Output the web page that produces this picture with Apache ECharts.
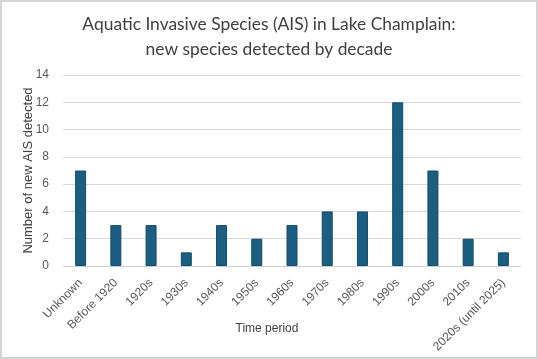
<!DOCTYPE html>
<html><head><meta charset="utf-8">
<script src="https://cdn.jsdelivr.net/npm/echarts@6/dist/echarts.min.js"></script>
<style>html,body{margin:0;padding:0;background:#fff;}#c{width:538px;height:359px;}</style>
</head><body><div id="c"></div>
<script>
const categories = ["Unknown","Before 1920","1920s","1930s","1940s","1950s","1960s","1970s","1980s","1990s","2000s","2010s","2020s (until 2025)"];
const values = [7,3,3,1,3,2,3,4,4,12,7,2,1];
const titleLines = ["Aquatic Invasive Species (AIS) in Lake Champlain:","new species detected by decade"];
const chart = echarts.init(document.getElementById('c'));
chart.setOption({
  animation:false,
  graphic:[{type:'rect',shape:{x:1,y:1,width:536,height:357},style:{fill:'none',stroke:'#d4d4d4',lineWidth:2},silent:true}],
  title:{text:titleLines.join('\n'),left:'center',top:7,textStyle:{fontFamily:'Lato',fontWeight:'normal',fontSize:17.4,color:'#404040',lineHeight:25}},
  grid:{left:63,right:17,top:75,bottom:93,containLabel:false,outerBoundsMode:'none'},
  xAxis:{type:'category',data:categories,name:'Time period',nameLocation:'middle',nameGap:57,nameMoveOverlap:false,
    nameTextStyle:{fontFamily:'Liberation Sans',fontSize:12,color:'#404040',padding:[0,50,0,0]},
    axisTick:{show:false},axisLine:{lineStyle:{color:'#d0d0d0'}},
    axisLabel:{rotate:45,fontFamily:'Liberation Sans',fontSize:12,color:'#595959',interval:0,margin:15}},
  yAxis:{type:'value',min:0,max:14,interval:2,name:'Number of new AIS detected',nameLocation:'middle',nameGap:28,nameMoveOverlap:false,
    nameTextStyle:{fontFamily:'Liberation Sans',fontSize:13,color:'#404040'},
    axisLabel:{fontFamily:'Liberation Sans',fontSize:12,color:'#595959',margin:14},
    splitLine:{lineStyle:{color:'#d9d9d9'}},axisLine:{show:false},axisTick:{show:false}},
  series:[{type:'bar',data:values,barWidth:11,itemStyle:{color:'#1b5e81',borderColor:'#144c6a',borderWidth:1}}]
});
</script></body></html>
